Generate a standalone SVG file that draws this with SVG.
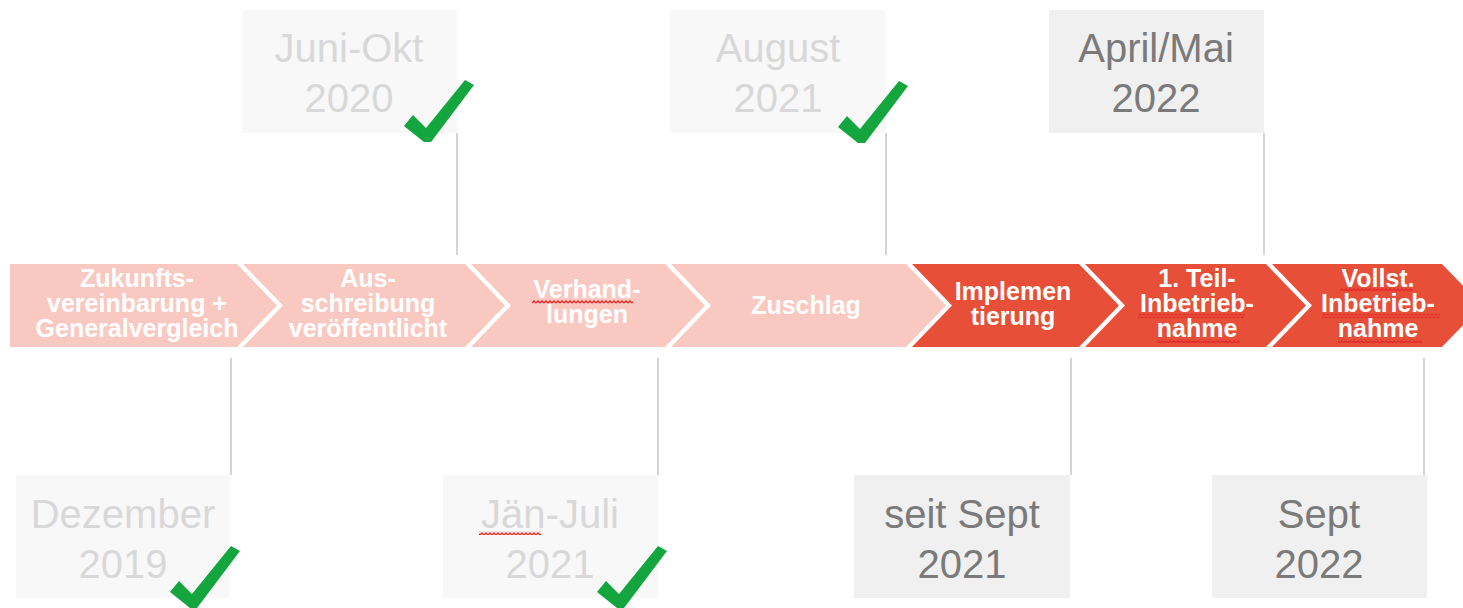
<svg xmlns="http://www.w3.org/2000/svg" width="1463" height="608" viewBox="0 0 1463 608">
<style>
.light{fill:#f9c9c1}
.dark{fill:#e84f38}
.ct{font-family:"Liberation Sans",Arial,sans-serif;font-weight:bold;font-size:25px;fill:#ffffff;text-anchor:middle}
.fbox{fill:#f8f8f8}
.abox{fill:#f0f0f0}
.ft{font-family:"Liberation Sans",Arial,sans-serif;font-size:40px;fill:#d8d8d8;text-anchor:middle}
.at{font-family:"Liberation Sans",Arial,sans-serif;font-size:40px;fill:#7a7a7a;text-anchor:middle}
.conn line{stroke:#d4d4d4;stroke-width:2}
.chk{fill:#13a53e}
.sq{fill:url(#wave)}
</style>
<defs>
<pattern id="wave" width="4" height="4" patternUnits="userSpaceOnUse">
<path d="M0,3 L2,1 L4,3" stroke="#e02c2c" stroke-width="1.4" fill="none"/>
</pattern>
<path id="check" d="M-23,-14 L-14,-25 L-1,-12 L38,-60 L47,-55 L4,2 L-3,2 Z"/>
</defs>
<rect width="1463" height="608" fill="#ffffff"/>

<g id="connectors" class="conn">
<line x1="457" y1="133" x2="457" y2="255"/>
<line x1="886" y1="133" x2="886" y2="255"/>
<line x1="1264" y1="133" x2="1264" y2="255"/>
<line x1="231" y1="358" x2="231" y2="475"/>
<line x1="658" y1="358" x2="658" y2="475"/>
<line x1="1071" y1="358" x2="1071" y2="475"/>
<line x1="1424" y1="358" x2="1424" y2="475"/>
</g>

<g id="phase1">
<path class="light" d="M10,264 L237,264 L277,305.5 L237,347 L10,347 Z"/>
<text class="ct" x="137" y="287">Zukunfts-</text>
<text class="ct" x="137" y="312">vereinbarung +</text>
<text class="ct" x="137" y="337">Generalvergleich</text>
</g>
<g id="phase2">
<path class="light" d="M243,264 L465,264 L505,305.5 L465,347 L243,347 L283,305.5 Z"/>
<text class="ct" x="368" y="287">Aus-</text>
<text class="ct" x="368" y="312">schreibung</text>
<text class="ct" x="368" y="337">veröffentlicht</text>
</g>
<g id="phase3">
<path class="light" d="M471,264 L665,264 L705,305.5 L665,347 L471,347 L511,305.5 Z"/>
<text class="ct" x="587" y="298">Verhand-</text>
<text class="ct" x="587" y="323">lungen</text>
<rect class="sq" x="532" y="300" width="101" height="4"/>
</g>
<g id="phase4">
<path class="light" d="M671,264 L906,264 L946,305.5 L906,347 L671,347 L711,305.5 Z"/>
<text class="ct" x="806" y="314">Zuschlag</text>
</g>
<g id="phase5">
<path class="dark" d="M912,264 L1079,264 L1119,305.5 L1079,347 L912,347 L952,305.5 Z"/>
<text class="ct" x="1013" y="300">Implemen</text>
<text class="ct" x="1013" y="325">tierung</text>
</g>
<g id="phase6">
<path class="dark" d="M1085,264 L1266,264 L1306,305.5 L1266,347 L1085,347 L1125,305.5 Z"/>
<text class="ct" x="1197" y="287">1. Teil-</text>
<text class="ct" x="1197" y="312">Inbetrieb-</text>
<text class="ct" x="1197" y="337">nahme</text>
<rect class="sq" x="1138" y="314" width="107" height="4"/>
<rect class="sq" x="1157" y="339" width="83" height="4"/>
</g>
<g id="phase7">
<path class="dark" d="M1272,264 L1442,264 L1482,305.5 L1442,347 L1272,347 L1312,305.5 Z"/>
<text class="ct" x="1378" y="287">Vollst.</text>
<text class="ct" x="1378" y="312">Inbetrieb-</text>
<text class="ct" x="1378" y="337">nahme</text>
<rect class="sq" x="1340" y="288" width="73" height="4"/>
<rect class="sq" x="1322" y="314" width="118" height="4"/>
<rect class="sq" x="1338" y="339" width="84" height="4"/>
</g>

<g id="date-juni-okt-2020">
<rect class="fbox" x="242" y="10" width="215" height="123"/>
<text class="ft" x="349" y="62">Juni-Okt</text>
<text class="ft" x="349" y="112">2020</text>
<use href="#check" class="chk" transform="translate(427,140)"/>
</g>
<g id="date-august-2021">
<rect class="fbox" x="670" y="10" width="216" height="123"/>
<text class="ft" x="778" y="62">August</text>
<text class="ft" x="778" y="112">2021</text>
<use href="#check" class="chk" transform="translate(861,141)"/>
</g>
<g id="date-april-mai-2022">
<rect class="abox" x="1049" y="10" width="215" height="123"/>
<text class="at" x="1156" y="62">April/Mai</text>
<text class="at" x="1156" y="112">2022</text>
</g>
<g id="date-dezember-2019">
<rect class="fbox" x="16" y="475" width="214" height="123"/>
<text class="ft" x="123" y="528">Dezember</text>
<text class="ft" x="123" y="578">2019</text>
<use href="#check" class="chk" transform="translate(193,606)"/>
</g>
<g id="date-jaen-juli-2021">
<rect class="fbox" x="443" y="475" width="215" height="123"/>
<text class="ft" x="550" y="528">Jän-Juli</text>
<text class="ft" x="550" y="578">2021</text>
<rect class="sq" x="479" y="531" width="62" height="4"/>
<use href="#check" class="chk" transform="translate(620,606)"/>
</g>
<g id="date-seit-sept-2021">
<rect class="abox" x="854" y="475" width="216" height="123"/>
<text class="at" x="962" y="528">seit Sept</text>
<text class="at" x="962" y="578">2021</text>
</g>
<g id="date-sept-2022">
<rect class="abox" x="1212" y="475" width="215" height="123"/>
<text class="at" x="1319" y="528">Sept</text>
<text class="at" x="1319" y="578">2022</text>
</g>
</svg>
